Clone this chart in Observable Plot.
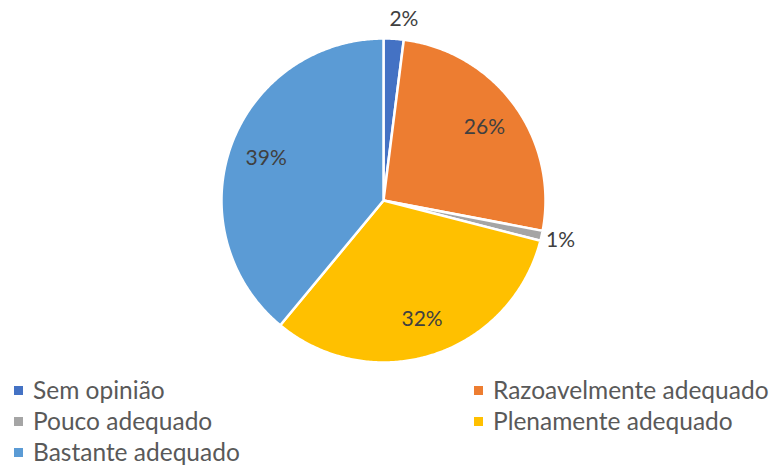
<!DOCTYPE html>
<html>
<head>
<meta charset="utf-8">
<script src="https://cdn.jsdelivr.net/npm/d3@7"></script>
<script src="https://cdn.jsdelivr.net/npm/@observablehq/plot@0.6"></script>
<style>
  html, body { margin: 0; padding: 0; background: #fff; }
  #chart { position: relative; width: 776px; height: 468px; font-family: Lato, "Open Sans", sans-serif; }
  #legend { position: absolute; left: 0; top: 377px; width: 776px; }
  .item { position: absolute; font-size: 24.5px; color: #595959; white-space: nowrap; line-height: 26px; }
  .sw { display: inline-block; width: 9px; height: 9px; margin-right: 10px; vertical-align: 4px; }
</style>
</head>
<body>
<div id="chart"></div>
<script>
const categories = ["Sem opinião", "Razoavelmente adequado", "Pouco adequado", "Plenamente adequado", "Bastante adequado"];
const values = [2, 26, 1, 32, 39];
const labels = ["2%", "26%", "1%", "32%", "39%"];
const colors = ["#4472C4", "#ED7D31", "#A5A5A5", "#FFC000", "#5B9BD5"];

const W = 776, H = 372, R = 162, CX = 383, CY = 200;
const total = d3.sum(values);

// slice polygons (angle measured clockwise from top)
const slices = [];
const labelRows = [];
let cum = 0;
values.forEach((v, i) => {
  const a0 = cum / total * 2 * Math.PI;
  cum += v;
  const a1 = cum / total * 2 * Math.PI;
  const n = Math.max(2, Math.ceil((a1 - a0) / 0.01));
  slices.push({cat: categories[i], x: 0, y: 0});
  for (let j = 0; j <= n; j++) {
    const a = a0 + (a1 - a0) * j / n;
    slices.push({cat: categories[i], x: Math.sin(a), y: Math.cos(a)});
  }
  slices.push({cat: categories[i], x: 0, y: 0});
  const am = (a0 + a1) / 2;
  const small = v / total < 0.05;
  const rl = small ? 1.12 : 0.77;
  labelRows.push({label: labels[i], x: rl * Math.sin(am), y: rl * Math.cos(am), small, top: small && Math.abs(Math.sin(am)) < 0.3});
});

const plot = Plot.plot({
  width: W,
  height: H,
  margin: 0,
  x: {domain: [-CX / R, (W - CX) / R], axis: null},
  y: {domain: [-(H - CY) / R, CY / R], axis: null},
  color: {domain: categories, range: colors},
  style: {fontFamily: "Lato, 'Open Sans', sans-serif", background: "#fff"},
  marks: [
    Plot.line(slices, {x: "x", y: "y", z: "cat", fill: "cat", stroke: "#fff", strokeWidth: 2.5, strokeLinejoin: "round", curve: "linear"}),
    Plot.text(labelRows.filter(d => !d.top), {x: "x", y: "y", text: "label", fill: "#404040", fontSize: 21}),
    Plot.text(labelRows.filter(d => d.top), {x: "x", y: "y", text: "label", fill: "#404040", fontSize: 21, dx: 9})
  ]
});
document.getElementById("chart").appendChild(plot);

// legend
const legend = document.createElement("div");
legend.id = "legend";
const pos = [[14, 0], [474, 0], [14, 31], [474, 31], [14, 62]];
categories.forEach((c, i) => {
  const it = document.createElement("div");
  it.className = "item";
  it.style.left = pos[i][0] + "px";
  it.style.top = pos[i][1] + "px";
  it.innerHTML = `<span class="sw" style="background:${colors[i]}"></span>${c}`;
  legend.appendChild(it);
});
document.getElementById("chart").appendChild(legend);
</script>
</body>
</html>
